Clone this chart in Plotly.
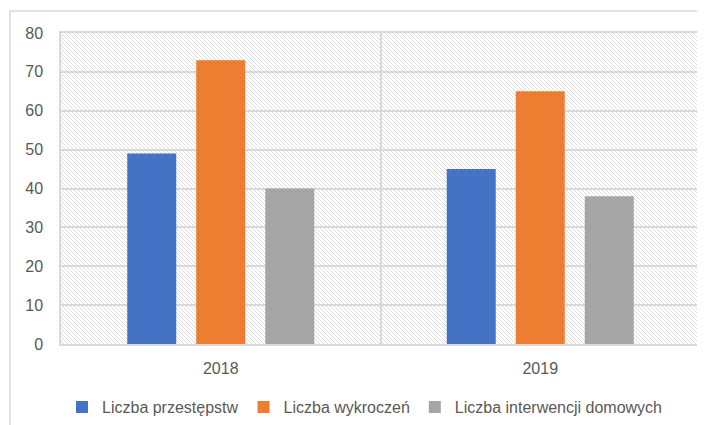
import base64
import plotly.graph_objects as go

years = ["2018", "2019"]
przestepstwa = [49, 45]
wykroczenia = [73, 65]
interwencje = [40, 38]

names = ["Liczba przestępstw", "Liczba wykroczeń", "Liczba interwencji domowych"]
colors = ["#4472C4", "#ED7D31", "#A5A5A5"]

# diagonal hatch for the plot area background
svg = ('<svg xmlns="http://www.w3.org/2000/svg" width="639" height="311" viewBox="0 0 639 311" '
       'preserveAspectRatio="none"><defs><pattern id="h" width="4" height="4" patternUnits="userSpaceOnUse">'
       '<path d="M0,0 L4,4 M-1,3 L1,5 M3,-1 L5,1" stroke="#dedede" stroke-width="1"/></pattern></defs>'
       '<rect width="639" height="311" fill="url(#h)"/></svg>')
svg_uri = "data:image/svg+xml;base64," + base64.b64encode(svg.encode()).decode()

fig = go.Figure()
for vals, name, col in zip([przestepstwa, wykroczenia, interwencje], names, colors):
    fig.add_trace(go.Bar(x=years, y=vals, name=name, marker_color=col, marker_line_width=0))

fig.add_layout_image(source=svg_uri, xref="paper", yref="paper", x=0, y=1, sizex=1, sizey=1,
                     xanchor="left", yanchor="top", sizing="stretch", layer="below")

# outer chart frame
fig.add_shape(type="rect", xref="paper", yref="paper", x0=-0.0798, y0=-0.5, x1=1.2, y1=1.0707,
              line=dict(color="#d9d9d9", width=1.5), layer="below")

# page body adds an 8px offset, so margins are shifted to compensate
fig.update_layout(
    width=705, height=425,
    margin=dict(l=53, r=13, t=25, b=89, autoexpand=False),
    paper_bgcolor="white", plot_bgcolor="rgba(0,0,0,0)",
    barmode="group", bargap=0.352, bargroupgap=0.29,
    font=dict(family="Liberation Sans, Arial, sans-serif", size=16, color="#595959"),
    legend=dict(orientation="h", x=0.475, xanchor="center", yref="container", y=0.061,
                yanchor="middle", font=dict(size=16, color="#595959"), itemwidth=30,
                traceorder="normal"),
    showlegend=True,
)
fig.update_xaxes(type="category", tickson="boundaries", showgrid=True, gridcolor="#d9d9d9",
                 gridwidth=1.5, showline=True, linecolor="#d9d9d9", linewidth=1.5, mirror=True,
                 ticks="", ticklabelstandoff=9, automargin=False)
fig.update_yaxes(range=[0, 80], dtick=10, showgrid=True, gridcolor="#d9d9d9", gridwidth=1.5,
                 showline=True, linecolor="#d9d9d9", linewidth=1.5, mirror=True, zeroline=False,
                 ticks="", ticklabelstandoff=13, automargin=False)

fig.write_html("out.html")
